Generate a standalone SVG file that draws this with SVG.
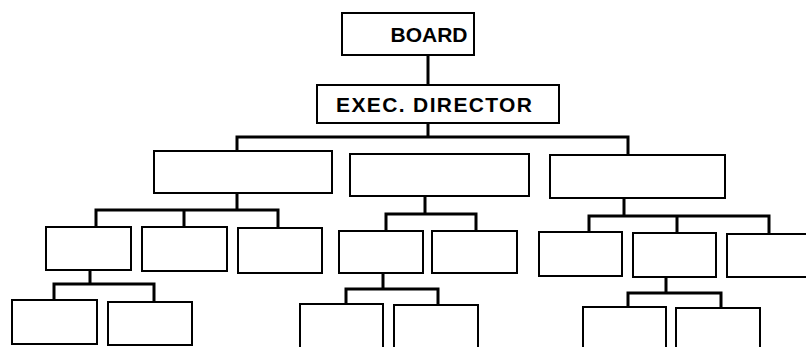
<svg xmlns="http://www.w3.org/2000/svg" width="806" height="347" viewBox="0 0 806 347">
<style>
.box{fill:#fff;stroke:#000;stroke-width:2}
.con{fill:none;stroke:#000;stroke-width:3;stroke-linejoin:miter}
.lbl{font-family:"Liberation Sans",Arial,sans-serif;font-weight:bold;font-size:21px;fill:#000;text-anchor:middle}
</style>
<rect width="806" height="347" fill="#fff"/>
<g id="connectors">
<path class="con" d="M428 55V85"/>
<path class="con" d="M428 123V137M237 151V137H628V155"/>
<path class="con" d="M237 193V210M96 227V210H278V228M184 210V227"/>
<path class="con" d="M425 196V214M386 231V214H476V231"/>
<path class="con" d="M624 198V216M589 232V216H769V234M677 216V233"/>
<path class="con" d="M90 270V284M54 300V284H154V302"/>
<path class="con" d="M383 273V289M346 304V289H438V305"/>
<path class="con" d="M666 277V293M628 307V293H721V308"/>
</g>
<g id="board"><rect class="box" x="342" y="13" width="132" height="42"/><text class="lbl" x="429" y="42">BOARD</text></g>
<g id="exec"><rect class="box" x="317" y="85" width="242" height="38"/><text class="lbl" x="434" y="112" textLength="196">EXEC. DIRECTOR</text></g>
<g id="dept1"><rect class="box" x="154" y="151" width="178" height="42"/></g>
<g id="dept2"><rect class="box" x="350" y="154" width="179" height="42"/></g>
<g id="dept3"><rect class="box" x="550" y="155" width="175" height="43"/></g>
<g id="u1"><rect class="box" x="46" y="227" width="85" height="43"/></g>
<g id="u2"><rect class="box" x="142" y="227" width="85" height="44"/></g>
<g id="u3"><rect class="box" x="238" y="228" width="84" height="45"/></g>
<g id="u4"><rect class="box" x="339" y="231" width="84" height="42"/></g>
<g id="u5"><rect class="box" x="432" y="231" width="85" height="42"/></g>
<g id="u6"><rect class="box" x="539" y="232" width="83" height="44"/></g>
<g id="u7"><rect class="box" x="633" y="233" width="83" height="44"/></g>
<g id="u8"><rect class="box" x="727" y="234" width="90" height="43"/></g>
<g id="s1"><rect class="box" x="12" y="300" width="85" height="44"/></g>
<g id="s2"><rect class="box" x="108" y="302" width="84" height="43"/></g>
<g id="s3"><rect class="box" x="300" y="304" width="83" height="50"/></g>
<g id="s4"><rect class="box" x="394" y="305" width="84" height="50"/></g>
<g id="s5"><rect class="box" x="583" y="307" width="83" height="50"/></g>
<g id="s6"><rect class="box" x="676" y="308" width="84" height="50"/></g>
</svg>
